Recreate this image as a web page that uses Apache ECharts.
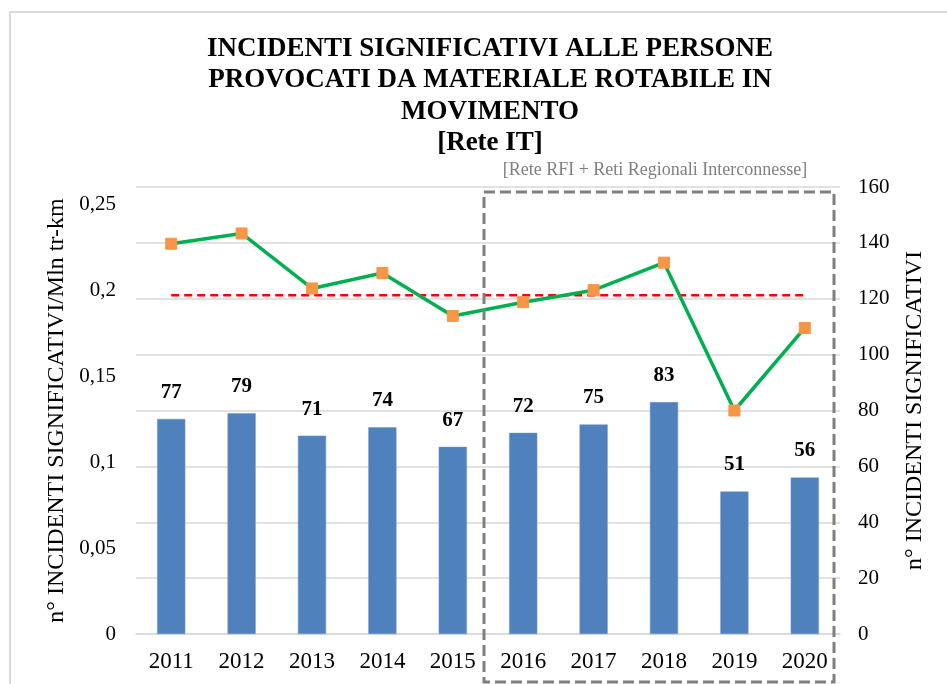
<!DOCTYPE html>
<html>
<head>
<meta charset="utf-8">
<script src="https://cdn.jsdelivr.net/npm/echarts@6/dist/echarts.min.js"></script>
<style>
  html, body { margin: 0; padding: 0; background: #fff; }
  #chart { width: 947px; height: 684px; }
</style>
</head>
<body>
<div id="chart"></div>
<script>
var years = ['2011', '2012', '2013', '2014', '2015', '2016', '2017', '2018', '2019', '2020'];
// n° incidenti significativi (asse destro)
var incidenti = [77, 79, 71, 74, 67, 72, 75, 83, 51, 56];
// incidenti / Mln tr-km (asse sinistro)
var tasso = [0.227, 0.233, 0.201, 0.210, 0.185, 0.193, 0.200, 0.216, 0.130, 0.178];
// valore di riferimento (linea rossa tratteggiata)
var riferimento = [0.197, 0.197, 0.197, 0.197, 0.197, 0.197, 0.197, 0.197, 0.197, 0.197];

var serif = "'Liberation Serif', 'Times New Roman', serif";

var chart = echarts.init(document.getElementById('chart'));

var option = {
	backgroundColor: '#fff',
	animation: false,
	textStyle: { fontFamily: serif },
	title: {
		text: 'INCIDENTI SIGNIFICATIVI ALLE PERSONE\nPROVOCATI DA MATERIALE ROTABILE IN\nMOVIMENTO\n[Rete IT]',
		left: 485,
		top: 28,
		textAlign: 'center',
		textStyle: {
			fontFamily: serif,
			fontSize: 27,
			fontWeight: 'bold',
			color: '#000',
			lineHeight: 31.5
		}
	},
	grid: {
		left: 136,
		right: 107,
		top: 187,
		bottom: 50
	},
	xAxis: {
		type: 'category',
		data: years,
		axisLine: { lineStyle: { color: '#d9d9d9', width: 1.5 } },
		axisTick: { length: 8, lineStyle: { color: '#d9d9d9', width: 1.5 } },
		axisLabel: { color: '#000', fontSize: 23, fontFamily: serif, margin: 16 }
	},
	yAxis: [{
		type: 'value',
		min: 0,
		max: 0.26,
		interval: 0.05,
		name: 'n° INCIDENTI SIGNIFICATIVI/Mln tr-km',
		nameLocation: 'middle',
		nameGap: 67,
		nameTextStyle: { color: '#000', fontSize: 24, fontFamily: serif },
		splitLine: { show: false },
		axisLine: { show: false },
		axisTick: { show: false },
		axisLabel: {
			color: '#000',
			fontSize: 21,
			fontFamily: serif,
			margin: 20,
			showMaxLabel: false,
			formatter: function(v) {
				return String(Math.round(v * 100) / 100).replace('.', ',');
			}
		}
	}, {
		type: 'value',
		min: 0,
		max: 160,
		interval: 20,
		name: 'n° INCIDENTI SIGNIFICATIVI',
		nameLocation: 'middle',
		nameGap: 63,
		nameRotate: 90,
		nameTextStyle: { color: '#000', fontSize: 24, fontFamily: serif },
		splitLine: { show: true, lineStyle: { color: '#d9d9d9', width: 1.5 } },
		axisLine: { show: false },
		axisTick: { show: false },
		axisLabel: { color: '#000', fontSize: 21, fontFamily: serif, margin: 18 }
	}],
	series: [{
		name: 'Incidenti',
		type: 'bar',
		yAxisIndex: 1,
		data: incidenti,
		barWidth: '40%',
		itemStyle: { color: '#4f81bd', borderColor: '#6f97c9', borderWidth: 0.5 },
		label: {
			show: true,
			position: 'top',
			distance: 16,
			color: '#000',
			fontSize: 21,
			fontWeight: 'bold',
			fontFamily: serif
		}
	}, {
		name: 'Riferimento',
		type: 'line',
		yAxisIndex: 0,
		data: riferimento,
		showSymbol: false,
		lineStyle: { color: '#ff0000', width: 2.5, type: [8, 5] },
		z: 3
	}, {
		name: 'Tasso',
		type: 'line',
		yAxisIndex: 0,
		data: tasso,
		symbol: 'rect',
		symbolSize: 11,
		itemStyle: { color: '#f79646', borderColor: '#f79646' },
		lineStyle: { color: '#00b050', width: 3.5 },
		z: 4
	}],
	graphic: [{
		type: 'rect',
		silent: true,
		shape: { x: 10, y: 12, width: 1000, height: 1000 },
		style: { fill: 'none', stroke: '#d9d9d9', lineWidth: 2 },
		z: -1
	}, {
		type: 'rect',
		silent: true,
		shape: { x: 484, y: 192, width: 350, height: 490 },
		style: { fill: 'none', stroke: '#7f7f7f', lineWidth: 3, lineDash: [11, 5] },
		z: 10
	}, {
		type: 'text',
		silent: true,
		x: 655,
		y: 170,
		style: {
			text: '[Rete RFI + Reti Regionali Interconnesse]',
			fill: '#808080',
			font: '18px ' + serif,
			align: 'center',
			verticalAlign: 'middle'
		},
		z: 10
	}]
};

chart.setOption(option);
window.addEventListener('resize', function() {
	chart.resize();
});
</script>
</body>
</html>
